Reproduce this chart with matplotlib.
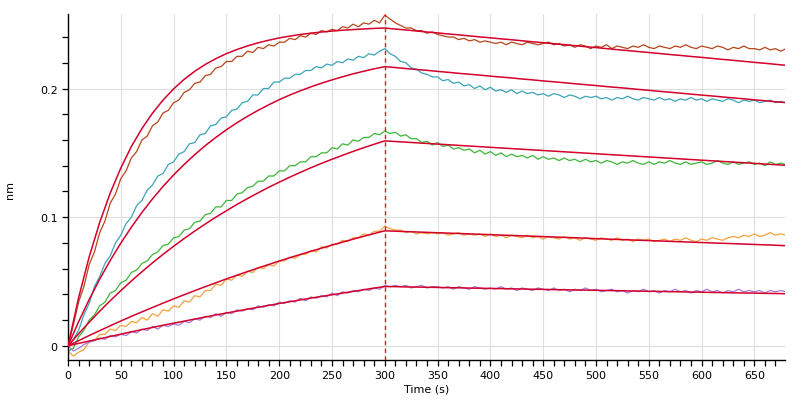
import numpy as np
import matplotlib
matplotlib.use("Agg")
import matplotlib.pyplot as plt
from matplotlib.ticker import MultipleLocator

# time grids (s)
time_data = np.arange(0, 681, 5)
time_fit = np.arange(0, 681, 10)

# measured traces (nm), every 5 s
trace_brown = [
    0.000, 0.016, 0.034, 0.046, 0.063, 0.073, 0.088, 0.097, 0.111, 0.118,
    0.130, 0.136, 0.146, 0.151, 0.160, 0.163, 0.171, 0.174, 0.181, 0.183,
    0.189, 0.191, 0.197, 0.199, 0.204, 0.205, 0.210, 0.211, 0.216, 0.217,
    0.221, 0.221, 0.225, 0.225, 0.229, 0.228, 0.232, 0.231, 0.234, 0.233,
    0.236, 0.236, 0.239, 0.238, 0.241, 0.240, 0.243, 0.242, 0.245, 0.244,
    0.246, 0.245, 0.248, 0.247, 0.250, 0.248, 0.251, 0.250, 0.253, 0.251,
    0.257, 0.254, 0.251, 0.249, 0.247, 0.247, 0.245, 0.245, 0.243, 0.244,
    0.242, 0.241, 0.240, 0.240, 0.238, 0.239, 0.237, 0.238, 0.236, 0.237,
    0.236, 0.235, 0.236, 0.234, 0.236, 0.235, 0.234, 0.236, 0.235, 0.234,
    0.235, 0.236, 0.234, 0.235, 0.233, 0.234, 0.232, 0.234, 0.233, 0.231,
    0.233, 0.232, 0.234, 0.231, 0.233, 0.232, 0.231, 0.233, 0.232, 0.234,
    0.232, 0.231, 0.233, 0.232, 0.231, 0.233, 0.232, 0.234, 0.232, 0.231,
    0.233, 0.232, 0.231, 0.233, 0.232, 0.230, 0.232, 0.231, 0.233, 0.231,
    0.231, 0.230, 0.232, 0.230, 0.231, 0.229, 0.231,
]
trace_cyan = [
    -0.002, 0.005, 0.012, 0.024, 0.033, 0.046, 0.054, 0.064, 0.070, 0.080,
    0.086, 0.095, 0.100, 0.109, 0.113, 0.121, 0.125, 0.132, 0.134, 0.141,
    0.143, 0.149, 0.151, 0.157, 0.158, 0.164, 0.165, 0.171, 0.172, 0.177,
    0.178, 0.183, 0.184, 0.189, 0.190, 0.195, 0.195, 0.200, 0.200, 0.205,
    0.205, 0.208, 0.208, 0.211, 0.211, 0.214, 0.214, 0.217, 0.216, 0.219,
    0.218, 0.221, 0.220, 0.223, 0.222, 0.225, 0.224, 0.227, 0.226, 0.229,
    0.231, 0.227, 0.225, 0.221, 0.220, 0.216, 0.215, 0.212, 0.211, 0.209,
    0.209, 0.206, 0.207, 0.204, 0.205, 0.202, 0.203, 0.200, 0.202, 0.199,
    0.201, 0.198, 0.199, 0.197, 0.199, 0.196, 0.198, 0.196, 0.197, 0.195,
    0.196, 0.194, 0.196, 0.195, 0.193, 0.195, 0.194, 0.192, 0.194, 0.193,
    0.194, 0.192, 0.193, 0.191, 0.193, 0.192, 0.194, 0.192, 0.191, 0.193,
    0.192, 0.191, 0.193, 0.191, 0.192, 0.190, 0.192, 0.191, 0.193, 0.191,
    0.192, 0.190, 0.192, 0.191, 0.190, 0.192, 0.191, 0.189, 0.191, 0.190,
    0.191, 0.189, 0.190, 0.191, 0.189, 0.190, 0.189,
]
trace_green = [
    -0.004, -0.002, 0.007, 0.012, 0.020, 0.024, 0.031, 0.034, 0.041, 0.043,
    0.049, 0.051, 0.057, 0.059, 0.064, 0.066, 0.071, 0.073, 0.078, 0.079,
    0.084, 0.085, 0.090, 0.091, 0.096, 0.097, 0.102, 0.103, 0.108, 0.108,
    0.113, 0.113, 0.118, 0.119, 0.123, 0.124, 0.128, 0.128, 0.132, 0.132,
    0.136, 0.136, 0.140, 0.140, 0.143, 0.143, 0.147, 0.147, 0.150, 0.150,
    0.154, 0.153, 0.157, 0.156, 0.160, 0.159, 0.162, 0.162, 0.165, 0.164,
    0.167, 0.165, 0.166, 0.163, 0.164, 0.161, 0.161, 0.158, 0.159, 0.156,
    0.158, 0.155, 0.156, 0.153, 0.154, 0.152, 0.153, 0.150, 0.152, 0.149,
    0.151, 0.148, 0.150, 0.147, 0.149, 0.147, 0.148, 0.146, 0.148, 0.145,
    0.147, 0.145, 0.146, 0.144, 0.146, 0.144, 0.145, 0.143, 0.145, 0.143,
    0.144, 0.142, 0.144, 0.143, 0.141, 0.143, 0.142, 0.144, 0.142, 0.141,
    0.143, 0.141, 0.143, 0.142, 0.144, 0.142, 0.141, 0.143, 0.141, 0.142,
    0.143, 0.141, 0.142, 0.144, 0.142, 0.141, 0.143, 0.141, 0.142, 0.143,
    0.141, 0.142, 0.140, 0.143, 0.141, 0.142, 0.141,
]
trace_orange = [
    -0.004, -0.008, -0.005, -0.003, 0.003, 0.004, 0.009, 0.009, 0.013, 0.012,
    0.016, 0.015, 0.019, 0.018, 0.022, 0.020, 0.025, 0.023, 0.028, 0.027,
    0.031, 0.030, 0.035, 0.034, 0.039, 0.038, 0.043, 0.043, 0.048, 0.047,
    0.052, 0.051, 0.055, 0.054, 0.058, 0.057, 0.061, 0.060, 0.063, 0.062,
    0.066, 0.066, 0.069, 0.068, 0.071, 0.071, 0.074, 0.073, 0.077, 0.076,
    0.079, 0.079, 0.082, 0.081, 0.084, 0.084, 0.087, 0.086, 0.089, 0.089,
    0.093, 0.091, 0.090, 0.090, 0.088, 0.089, 0.087, 0.088, 0.087, 0.088,
    0.087, 0.088, 0.086, 0.087, 0.088, 0.086, 0.087, 0.086, 0.087, 0.085,
    0.087, 0.085, 0.086, 0.084, 0.086, 0.085, 0.084, 0.086, 0.084, 0.085,
    0.083, 0.085, 0.084, 0.083, 0.085, 0.083, 0.084, 0.082, 0.084, 0.083,
    0.082, 0.084, 0.083, 0.082, 0.084, 0.082, 0.083, 0.081, 0.083, 0.082,
    0.083, 0.081, 0.082, 0.083, 0.081, 0.083, 0.082, 0.084, 0.082, 0.081,
    0.083, 0.082, 0.084, 0.083, 0.082, 0.084, 0.085, 0.084, 0.086, 0.085,
    0.087, 0.085, 0.086, 0.088, 0.086, 0.087, 0.086,
]
trace_purple = [
    0.000, -0.004, -0.002, 0.001, 0.003, 0.004, 0.006, 0.005, 0.008, 0.007,
    0.009, 0.008, 0.011, 0.010, 0.013, 0.012, 0.015, 0.013, 0.016, 0.015,
    0.017, 0.016, 0.019, 0.018, 0.021, 0.020, 0.023, 0.022, 0.025, 0.023,
    0.026, 0.025, 0.028, 0.027, 0.029, 0.028, 0.031, 0.030, 0.032, 0.031,
    0.034, 0.033, 0.035, 0.034, 0.037, 0.035, 0.038, 0.037, 0.039, 0.038,
    0.041, 0.039, 0.042, 0.041, 0.043, 0.042, 0.044, 0.043, 0.045, 0.044,
    0.047, 0.046, 0.047, 0.046, 0.047, 0.045, 0.046, 0.047, 0.045, 0.046,
    0.046, 0.045, 0.046, 0.044, 0.046, 0.045, 0.044, 0.046, 0.045, 0.044,
    0.045, 0.044, 0.046, 0.044, 0.045, 0.043, 0.045, 0.044, 0.043, 0.045,
    0.044, 0.043, 0.045, 0.043, 0.044, 0.042, 0.044, 0.043, 0.045, 0.043,
    0.044, 0.042, 0.043, 0.044, 0.042, 0.043, 0.041, 0.043, 0.042, 0.044,
    0.042, 0.043, 0.041, 0.043, 0.042, 0.044, 0.042, 0.043, 0.041, 0.043,
    0.042, 0.044, 0.042, 0.043, 0.041, 0.043, 0.042, 0.044, 0.042, 0.043,
    0.042, 0.043, 0.041, 0.043, 0.042, 0.043, 0.042,
]

# fitted curves (nm), every 10 s
fit_a = [
    0.0000, 0.0373, 0.0690, 0.0959, 0.1188, 0.1382, 0.1549, 0.1689, 0.1808, 0.1910,
    0.1997, 0.2071, 0.2134, 0.2187, 0.2232, 0.2271, 0.2303, 0.2331, 0.2355, 0.2375,
    0.2393, 0.2407, 0.2420, 0.2430, 0.2439, 0.2446, 0.2453, 0.2458, 0.2463, 0.2467,
    0.2470, 0.2462, 0.2455, 0.2447, 0.2439, 0.2432, 0.2424, 0.2417, 0.2409, 0.2401,
    0.2394, 0.2386, 0.2379, 0.2371, 0.2363, 0.2356, 0.2348, 0.2341, 0.2333, 0.2325,
    0.2318, 0.2310, 0.2302, 0.2295, 0.2287, 0.2280, 0.2272, 0.2264, 0.2257, 0.2249,
    0.2242, 0.2234, 0.2226, 0.2219, 0.2211, 0.2203, 0.2196, 0.2188, 0.2180,
]
fit_b = [
    0.0000, 0.0187, 0.0359, 0.0518, 0.0664, 0.0798, 0.0922, 0.1037, 0.1142, 0.1239,
    0.1328, 0.1410, 0.1486, 0.1556, 0.1620, 0.1679, 0.1734, 0.1784, 0.1830, 0.1873,
    0.1913, 0.1949, 0.1982, 0.2013, 0.2041, 0.2067, 0.2091, 0.2114, 0.2134, 0.2153,
    0.2170, 0.2163, 0.2155, 0.2148, 0.2141, 0.2133, 0.2126, 0.2118, 0.2111, 0.2104,
    0.2096, 0.2089, 0.2082, 0.2074, 0.2067, 0.2059, 0.2052, 0.2045, 0.2037, 0.2030,
    0.2023, 0.2015, 0.2008, 0.2001, 0.1993, 0.1986, 0.1978, 0.1971, 0.1964, 0.1956,
    0.1949, 0.1942, 0.1934, 0.1927, 0.1920, 0.1912, 0.1905, 0.1897, 0.1890,
]
fit_c = [
    0.0000, 0.0094, 0.0183, 0.0269, 0.0351, 0.0429, 0.0504, 0.0576, 0.0645, 0.0711,
    0.0774, 0.0834, 0.0892, 0.0947, 0.1000, 0.1050, 0.1099, 0.1145, 0.1189, 0.1232,
    0.1272, 0.1311, 0.1348, 0.1384, 0.1418, 0.1450, 0.1481, 0.1511, 0.1540, 0.1567,
    0.1593, 0.1588, 0.1583, 0.1578, 0.1573, 0.1568, 0.1563, 0.1558, 0.1553, 0.1548,
    0.1543, 0.1538, 0.1533, 0.1528, 0.1523, 0.1518, 0.1513, 0.1508, 0.1503, 0.1498,
    0.1493, 0.1488, 0.1483, 0.1478, 0.1473, 0.1468, 0.1463, 0.1458, 0.1453, 0.1448,
    0.1443, 0.1438, 0.1433, 0.1428, 0.1423, 0.1418, 0.1413, 0.1408, 0.1403,
]
fit_d = [
    0.0000, 0.0040, 0.0080, 0.0118, 0.0156, 0.0193, 0.0229, 0.0264, 0.0298, 0.0332,
    0.0365, 0.0397, 0.0429, 0.0460, 0.0490, 0.0520, 0.0549, 0.0577, 0.0605, 0.0632,
    0.0659, 0.0685, 0.0710, 0.0735, 0.0759, 0.0783, 0.0806, 0.0829, 0.0851, 0.0873,
    0.0894, 0.0891, 0.0888, 0.0885, 0.0882, 0.0879, 0.0876, 0.0873, 0.0870, 0.0867,
    0.0864, 0.0861, 0.0858, 0.0855, 0.0852, 0.0849, 0.0846, 0.0843, 0.0840, 0.0837,
    0.0833, 0.0830, 0.0827, 0.0824, 0.0821, 0.0818, 0.0815, 0.0812, 0.0809, 0.0806,
    0.0803, 0.0800, 0.0797, 0.0794, 0.0791, 0.0788, 0.0785, 0.0782, 0.0778,
]
fit_e = [
    0.0000, 0.0019, 0.0037, 0.0055, 0.0073, 0.0091, 0.0109, 0.0126, 0.0143, 0.0160,
    0.0176, 0.0192, 0.0208, 0.0224, 0.0240, 0.0255, 0.0270, 0.0285, 0.0300, 0.0314,
    0.0329, 0.0343, 0.0357, 0.0371, 0.0384, 0.0397, 0.0410, 0.0423, 0.0436, 0.0449,
    0.0461, 0.0460, 0.0458, 0.0457, 0.0455, 0.0454, 0.0452, 0.0451, 0.0449, 0.0448,
    0.0446, 0.0445, 0.0443, 0.0442, 0.0440, 0.0439, 0.0437, 0.0436, 0.0434, 0.0433,
    0.0432, 0.0430, 0.0429, 0.0427, 0.0426, 0.0424, 0.0423, 0.0421, 0.0420, 0.0418,
    0.0417, 0.0415, 0.0414, 0.0412, 0.0411, 0.0410, 0.0408, 0.0407, 0.0405,
]

traces = [
    (trace_brown, "#b5451b"),
    (trace_cyan, "#3ba4b8"),
    (trace_green, "#3fb53a"),
    (trace_orange, "#f2a23f"),
    (trace_purple, "#a57bd8"),
]
fits = [fit_a, fit_b, fit_c, fit_d, fit_e]
fit_color = "#d3002c"
switch_time = 300

plt.rcParams["font.family"] = "DejaVu Sans"

fig = plt.figure(figsize=(8.02, 4.02), dpi=100)
ax = fig.add_axes([0.0848, 0.102, 0.894, 0.861])

for values, color in traces:
    ax.plot(time_data, values, color=color, lw=0.9, zorder=2)
for values in fits:
    ax.plot(time_fit, values, color=fit_color, lw=1.1, zorder=3)

# dashed marker where association switches to dissociation
ax.axvline(switch_time, color="#e8102a", lw=1.0, ls=(0, (3, 2.5)), zorder=4)

ax.set_xlim(0, 679)
ax.set_ylim(-0.011, 0.258)

ax.xaxis.set_major_locator(MultipleLocator(50))
ax.xaxis.set_minor_locator(MultipleLocator(10))
ax.yaxis.set_major_locator(MultipleLocator(0.1))
ax.yaxis.set_minor_locator(MultipleLocator(0.02))
ax.yaxis.set_major_formatter(plt.FuncFormatter(lambda v, p: "0" if abs(v) < 1e-9 else f"{v:.1f}"))

ax.grid(True, which="major", color="#dedede", lw=0.8, zorder=0)
ax.set_axisbelow(True)

for side in ["top", "right"]:
    ax.spines[side].set_visible(False)
for side in ["left", "bottom"]:
    ax.spines[side].set_linewidth(1.0)

ax.tick_params(which="both", direction="out", length=4, width=0.9, labelsize=8, colors="black")
ax.tick_params(axis="x", pad=3)

ax.set_xlabel("Time (s)", fontsize=8, labelpad=3)
fig.text(0.012, 0.527, "nm", rotation=90, fontsize=8, ha="center", va="center")

fig.savefig("out.png", dpi=100)
